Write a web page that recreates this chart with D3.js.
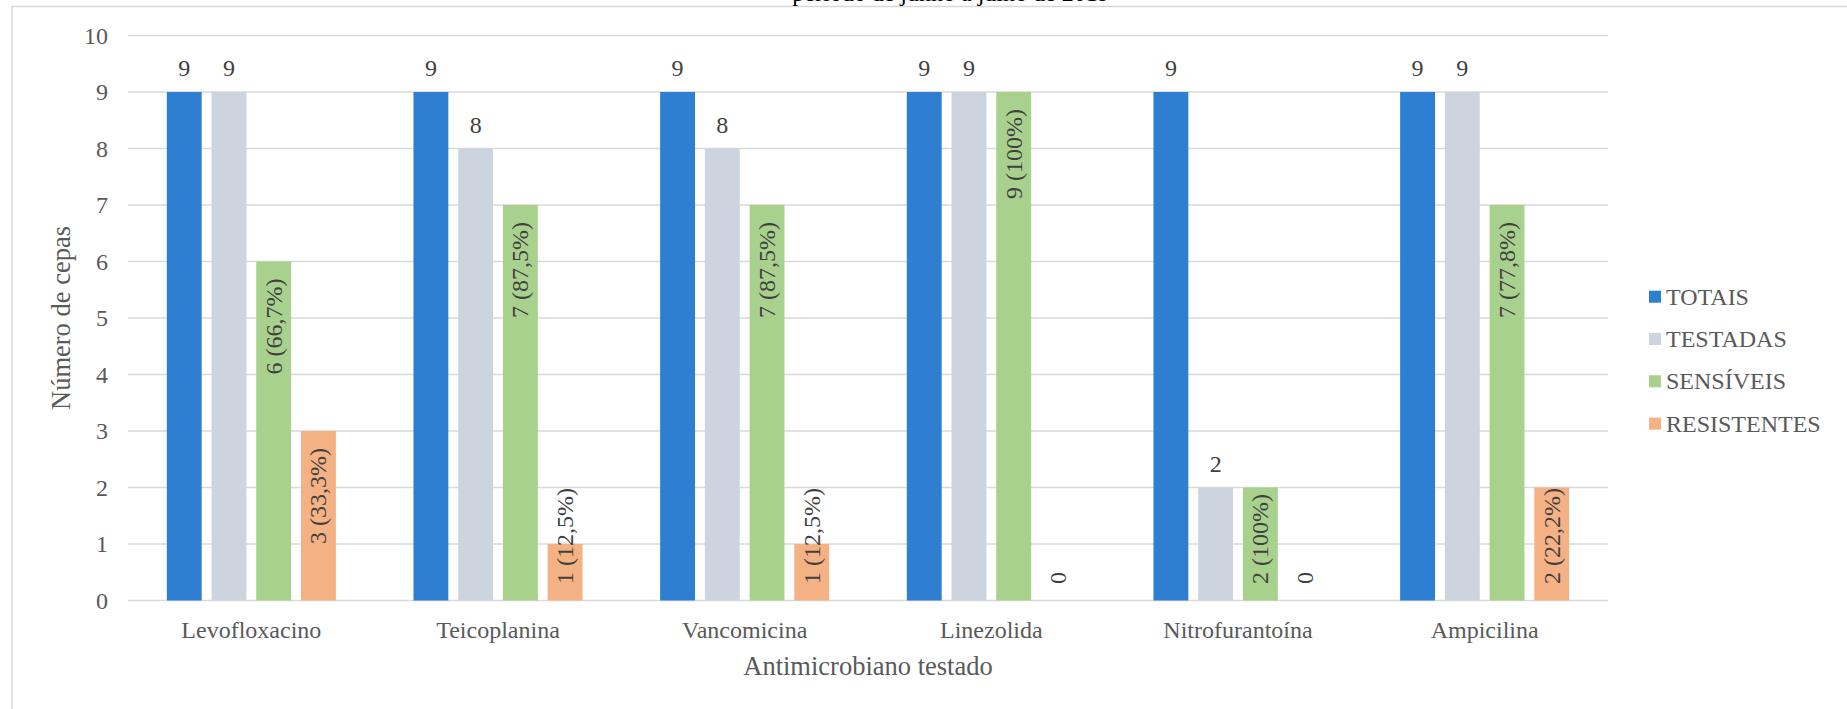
<!DOCTYPE html>
<html lang="pt">
<head>
<meta charset="utf-8">
<script src="https://cdn.jsdelivr.net/npm/d3@7"></script>
<style>
  html, body { margin: 0; padding: 0; background: #fff; overflow: hidden; }
  svg { display: block; }
  svg text { font-family: "Liberation Serif", "Times New Roman", serif !important; }
</style>
</head>
<body>
<svg id="chart" width="1847" height="709"></svg>
<script>
// Antimicrobianos testados e contagens de cepas por grupo
const categories = ["Levofloxacino", "Teicoplanina", "Vancomicina", "Linezolida", "Nitrofurantoína", "Ampicilina"];
const seriesNames = ["TOTAIS", "TESTADAS", "SENSÍVEIS", "RESISTENTES"];
const totais      = [9, 9, 9, 9, 9, 9];
const testadas    = [9, 8, 8, 9, 2, 9];
const sensiveis   = [6, 7, 7, 9, 2, 7];
const resistentes = [3, 1, 1, 0, 0, 2];
const sensiveisPct   = ["66,7%", "87,5%", "87,5%", "100%", "100%", "77,8%"];
const resistentesPct = ["33,3%", "12,5%", "12,5%", null, null, "22,2%"];
const yTicks = [0, 1, 2, 3, 4, 5, 6, 7, 8, 9, 10];
const colors = ["#2E7FD2", "#CCD5DF", "#A9D18E", "#F4B183"];

const titleText = "período de junho a julho de 2019";
const yTitle = "Número de cepas";
const xTitle = "Antimicrobiano testado";

const svg = d3.select("#chart");

// moldura da área do gráfico
svg.append("rect")
  .attr("x", 12).attr("y", 6.5)
  .attr("width", 1900).attr("height", 800)
  .attr("fill", "none").attr("stroke", "#d9d9d9").attr("stroke-width", 1.5);

// título (a maior parte fica acima da borda da página)
svg.append("text")
  .attr("x", 951).attr("y", 0.5)
  .attr("text-anchor", "middle")
  .attr("font-size", 24).attr("fill", "#000")
  .text(titleText);

const plot = { left: 128, right: 1608, top: 35.5, bottom: 600.5 };

const y = d3.scaleLinear().domain([0, 10]).range([plot.bottom, plot.top]);
const x0 = d3.scaleBand().domain(categories).range([plot.left, plot.right]).padding(0);
const x1 = d3.scaleBand().domain(seriesNames)
  .range([38.8, x0.bandwidth() - 38.8]).paddingInner(0.22).paddingOuter(0);

// grade horizontal
svg.append("g")
  .selectAll("line")
  .data(yTicks)
  .join("line")
  .attr("x1", plot.left).attr("x2", plot.right)
  .attr("y1", d => y(d)).attr("y2", d => y(d))
  .attr("stroke", "#d9d9d9").attr("stroke-width", 1.5);

// eixo Y
const yAxis = svg.append("g")
  .attr("transform", `translate(${plot.left},0)`)
  .call(d3.axisLeft(y).tickValues(yTicks).tickSize(0).tickPadding(20).tickFormat(d3.format("d")));
yAxis.select(".domain").remove();
yAxis.selectAll("text")
  .attr("font-size", 24).attr("fill", "#595959");

// eixo X
const xAxis = svg.append("g")
  .attr("transform", `translate(0,${plot.bottom})`)
  .call(d3.axisBottom(x0).tickSize(0).tickPadding(20));
xAxis.select(".domain").remove();
xAxis.selectAll("text")
  .attr("font-size", 24).attr("fill", "#595959");

// títulos dos eixos
svg.append("text")
  .attr("transform", `translate(70,${(plot.top + plot.bottom) / 2}) rotate(-90)`)
  .attr("text-anchor", "middle")
  .attr("font-size", 26.5).attr("fill", "#595959")
  .text(yTitle);
svg.append("text")
  .attr("x", (plot.left + plot.right) / 2).attr("y", 675)
  .attr("text-anchor", "middle")
  .attr("font-size", 26.5).attr("fill", "#595959")
  .text(xTitle);

// barras
const rows = categories.map((c, i) => ({
  cat: c,
  vals: [
    { s: seriesNames[0], v: totais[i], k: 0 },
    { s: seriesNames[1], v: testadas[i], k: 1 },
    { s: seriesNames[2], v: sensiveis[i], k: 2, pct: sensiveisPct[i] },
    { s: seriesNames[3], v: resistentes[i], k: 3, pct: resistentesPct[i] }
  ]
}));

const groups = svg.append("g")
  .selectAll("g")
  .data(rows)
  .join("g")
  .attr("transform", d => `translate(${x0(d.cat)},0)`);

groups.selectAll("rect")
  .data(d => d.vals)
  .join("rect")
  .attr("x", d => x1(d.s))
  .attr("y", d => y(d.v))
  .attr("width", x1.bandwidth())
  .attr("height", d => y(0) - y(d.v))
  .attr("fill", d => colors[d.k]);

// rótulos horizontais acima das barras (TOTAIS e TESTADAS)
groups.selectAll("text.top")
  .data(d => d.vals.filter(v => v.k < 2))
  .join("text")
  .attr("class", "top")
  .attr("x", d => x1(d.s) + x1.bandwidth() / 2)
  .attr("y", d => y(d.v) - 16)
  .attr("text-anchor", "middle")
  .attr("font-size", 24).attr("fill", "#404040")
  .text(d => d.v);

// rótulos verticais dentro das barras (SENSÍVEIS e RESISTENTES)
groups.selectAll("text.inside")
  .data(d => d.vals.filter(v => v.k >= 2))
  .join("text")
  .attr("class", "inside")
  .attr("font-size", 24).attr("fill", "#404040")
  .attr("dominant-baseline", "central")
  .attr("text-anchor", "end")
  .text(d => d.pct ? `${d.v} (${d.pct})` : `${d.v}`)
  .each(function (d) {
    const len = this.getComputedTextLength();
    const cx = x1(d.s) + x1.bandwidth() / 2;
    const endPos = Math.min(y(d.v) + 17, y(0) - 16.5 - len);
    d3.select(this).attr("transform", `translate(${cx},${endPos}) rotate(-90)`);
  });

// legenda
const legend = svg.append("g")
  .selectAll("g")
  .data(seriesNames)
  .join("g")
  .attr("transform", (d, i) => `translate(1649,${296.7 + i * 42.3})`);
legend.append("rect")
  .attr("x", 0).attr("y", -6).attr("width", 12).attr("height", 12)
  .attr("fill", (d, i) => colors[i]);
legend.append("text")
  .attr("x", 17).attr("y", 0)
  .attr("dominant-baseline", "central")
  .attr("font-size", 24).attr("fill", "#595959")
  .text(d => d);
</script>
</body>
</html>
